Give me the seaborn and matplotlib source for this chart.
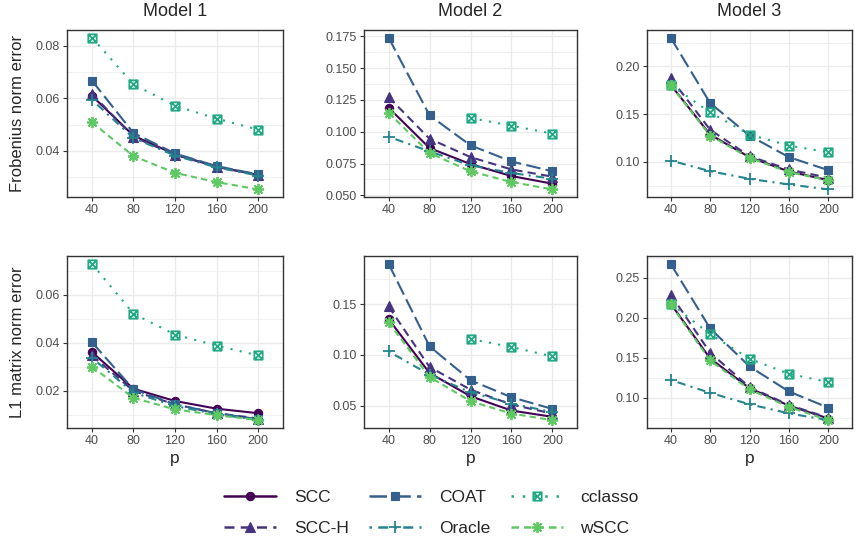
import numpy as np
import matplotlib
matplotlib.use("Agg")
import matplotlib.pyplot as plt
from matplotlib.path import Path
from matplotlib.lines import Line2D
from matplotlib.ticker import MultipleLocator, FormatStrFormatter
import seaborn as sns

# ---- data ----
p_values = [40, 80, 120, 160, 200]
methods = ["SCC", "SCC-H", "COAT", "Oracle", "cclasso", "wSCC"]
models = ["Model 1", "Model 2", "Model 3"]
nan = np.nan

# Frobenius norm error
frob_model1 = {
    "SCC":     [0.0610, 0.0458, 0.0387, 0.0339, 0.0308],
    "SCC-H":   [0.0618, 0.0453, 0.0385, 0.0340, 0.0309],
    "COAT":    [0.0668, 0.0468, 0.0390, 0.0342, 0.0310],
    "Oracle":  [0.0595, 0.0449, 0.0382, 0.0337, 0.0306],
    "cclasso": [0.0832, 0.0654, 0.0572, 0.0523, 0.0481],
    "wSCC":    [0.0509, 0.0380, 0.0316, 0.0281, 0.0253],
}
frob_model2 = {
    "SCC":     [0.1189, 0.0872, 0.0746, 0.0652, 0.0592],
    "SCC-H":   [0.1273, 0.0945, 0.0801, 0.0704, 0.0647],
    "COAT":    [0.1740, 0.1129, 0.0893, 0.0767, 0.0689],
    "Oracle":  [0.0961, 0.0846, 0.0736, 0.0676, 0.0631],
    "cclasso": [nan, nan, 0.1108, 0.1048, 0.0985],
    "wSCC":    [0.1150, 0.0833, 0.0689, 0.0605, 0.0547],
}
frob_model3 = {
    "SCC":     [0.1808, 0.1286, 0.1049, 0.0899, 0.0808],
    "SCC-H":   [0.1878, 0.1338, 0.1059, 0.0920, 0.0833],
    "COAT":    [0.2303, 0.1617, 0.1275, 0.1049, 0.0913],
    "Oracle":  [0.1014, 0.0902, 0.0822, 0.0763, 0.0711],
    "cclasso": [0.1808, 0.1519, 0.1286, 0.1171, 0.1101],
    "wSCC":    [0.1805, 0.1275, 0.1042, 0.0892, 0.0808],
}

# L1 matrix norm error
l1_model1 = {
    "SCC":     [0.0361, 0.0208, 0.0157, 0.0125, 0.0106],
    "SCC-H":   [0.0347, 0.0199, 0.0143, 0.0106, 0.0084],
    "COAT":    [0.0402, 0.0206, 0.0143, 0.0106, 0.0081],
    "Oracle":  [0.0337, 0.0192, 0.0136, 0.0102, 0.0078],
    "cclasso": [0.0729, 0.0521, 0.0434, 0.0388, 0.0347],
    "wSCC":    [0.0300, 0.0170, 0.0122, 0.0098, 0.0077],
}
l1_model2 = {
    "SCC":     [0.1352, 0.0821, 0.0592, 0.0451, 0.0389],
    "SCC-H":   [0.1477, 0.0880, 0.0657, 0.0510, 0.0421],
    "COAT":    [0.1897, 0.1084, 0.0749, 0.0582, 0.0467],
    "Oracle":  [0.1034, 0.0805, 0.0631, 0.0520, 0.0435],
    "cclasso": [nan, nan, 0.1156, 0.1077, 0.0984],
    "wSCC":    [0.1320, 0.0782, 0.0543, 0.0421, 0.0356],
}
l1_model3 = {
    "SCC":     [0.2175, 0.1490, 0.1118, 0.0899, 0.0738],
    "SCC-H":   [0.2289, 0.1562, 0.1131, 0.0907, 0.0747],
    "COAT":    [0.2673, 0.1866, 0.1389, 0.1076, 0.0873],
    "Oracle":  [0.1220, 0.1059, 0.0916, 0.0802, 0.0717],
    "cclasso": [0.2175, 0.1794, 0.1486, 0.1296, 0.1195],
    "wSCC":    [0.2166, 0.1465, 0.1102, 0.0882, 0.0717],
}

# ---- styles ----
sns.set_style("white")
plt.rcParams["font.family"] = ["Liberation Sans", "DejaVu Sans"]

pal = sns.color_palette("viridis", as_cmap=True)
colors = {m: pal(v) for m, v in zip(methods, np.linspace(0, 0.75, 6))}

# square with a cross inside (R shape 7)
box_x = Path([(-1, -1), (1, -1), (1, 1), (-1, 1), (-1, -1), (-1, -1), (1, 1), (-1, 1), (1, -1)],
             [Path.MOVETO, Path.LINETO, Path.LINETO, Path.LINETO, Path.CLOSEPOLY,
              Path.MOVETO, Path.LINETO, Path.MOVETO, Path.LINETO])
markers = {"SCC": "o", "SCC-H": "^", "COAT": "s", "Oracle": "+",
           "cclasso": box_x, "wSCC": (8, 2, 0)}
msizes = {"SCC": 6, "SCC-H": 6.5, "COAT": 5.5, "Oracle": 8, "cclasso": 6, "wSCC": 8}
linestyles = {"SCC": "-", "SCC-H": (0, (4, 2.5)), "COAT": (0, (7, 2.5)),
              "Oracle": (0, (1, 2.5, 4, 2.5)), "cclasso": (0, (1, 3.5)),
              "wSCC": (0, (3, 2))}
hollow = {"Oracle", "cclasso", "wSCC"}

W, H = 863, 550
fig = plt.figure(figsize=(W / 100, H / 100), dpi=100)

cols = [(67, 283), (364, 577), (647, 852)]
rows = [(30, 197), (256, 428)]
panels = [[frob_model1, frob_model2, frob_model3],
          [l1_model1, l1_model2, l1_model3]]
steps = [[0.02, 0.025, 0.05], [0.02, 0.05, 0.05]]
fmts = [["%.2f", "%.3f", "%.2f"], ["%.2f", "%.2f", "%.2f"]]
ylabels = ["Frobenius norm error", "L1 matrix norm error"]
pos = list(range(len(p_values)))

for r, (top, bot) in enumerate(rows):
    for c, (left, right) in enumerate(cols):
        ax = fig.add_axes([left / W, 1 - bot / H, (right - left) / W, (bot - top) / H])
        data = panels[r][c]
        for m in methods:
            sns.lineplot(x=pos, y=data[m], ax=ax, color=colors[m], errorbar=None,
                         linestyle=linestyles[m], linewidth=1.5,
                         marker=markers[m], markersize=msizes[m],
                         markeredgecolor=colors[m],
                         markerfacecolor="none" if m == "cclasso" else colors[m],
                         markeredgewidth=1.3 if m in hollow else 0.8)
        ax.set_xlim(-0.6, len(p_values) - 0.4)
        ax.set_xticks(pos)
        ax.set_xticklabels([str(p) for p in p_values])
        ax.yaxis.set_major_locator(MultipleLocator(steps[r][c]))
        ax.yaxis.set_minor_locator(MultipleLocator(steps[r][c] / 2))
        ax.yaxis.set_major_formatter(FormatStrFormatter(fmts[r][c]))
        ax.grid(True, which="major", color="#EBEBEB", linewidth=1.0)
        ax.grid(True, which="minor", axis="y", color="#EBEBEB", linewidth=0.5)
        ax.set_axisbelow(True)
        for s in ax.spines.values():
            s.set_color("#333333")
            s.set_linewidth(1.0)
        ax.tick_params(axis="both", which="major", length=3, width=0.8, color="#333333",
                       labelsize=9, labelcolor="#4D4D4D", pad=2, left=True, bottom=True)
        ax.tick_params(axis="y", which="minor", length=0)
        ax.set_ylabel("")
        if r == 1:
            ax.set_xlabel("p", fontsize=12.5, labelpad=3)
        if r == 0:
            fig.text((left + right) / 2 / W, 1 - 12 / H, models[c],
                     ha="center", va="center", fontsize=13)
    fig.text(18 / W, 1 - (top + bot) / 2 / H, ylabels[r], rotation=90,
             ha="center", va="center", fontsize=12)

handles = [Line2D([], [], color=colors[m], linestyle=linestyles[m], linewidth=1.8,
                  marker=markers[m], markersize=msizes[m], markeredgecolor=colors[m],
                  markerfacecolor="none" if m == "cclasso" else colors[m],
                  markeredgewidth=1.3 if m in hollow else 0.8)
           for m in methods]
fig.legend(handles, methods, loc="center", bbox_to_anchor=(0.5, 1 - 513 / H), ncol=3,
           frameon=False, fontsize=12.5, handlelength=3.0, handletextpad=1.0,
           columnspacing=1.2, labelspacing=0.9, numpoints=1)

fig.savefig("out.png", dpi=100)
